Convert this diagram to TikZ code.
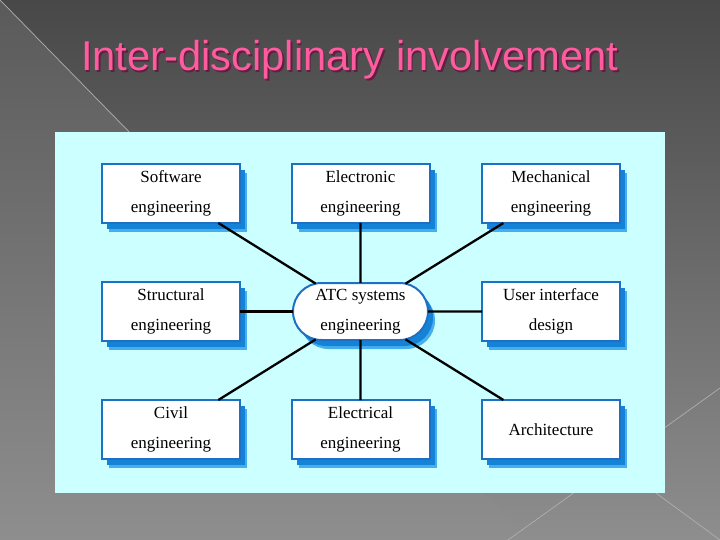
\documentclass[tikz,border=0pt]{standalone}
\usepackage{fontspec}
\setmainfont{Liberation Serif}
\newfontfamily\titlefont{Liberation Sans}
\usetikzlibrary{shapes.misc,shadows}
\definecolor{panelcyan}{RGB}{204,255,255}
\definecolor{boxblue}{RGB}{30,112,196}
\definecolor{shadowA}{RGB}{20,130,215}
\definecolor{shadowB}{RGB}{70,175,235}
\definecolor{titlepink}{RGB}{255,92,160}
\definecolor{titledark}{RGB}{100,30,65}
\definecolor{bgtop}{RGB}{72,72,72}
\definecolor{bgtopl}{RGB}{90,90,90}
\definecolor{bgbot}{RGB}{142,142,142}
\definecolor{diagline}{RGB}{175,175,175}
\begin{document}
\begin{tikzpicture}[x=1pt,y=-1pt,
  every node/.style={inner sep=0pt, outer sep=0pt},
  boxshadow/.style={
     general shadow={fill=shadowB, shadow xshift=7pt, shadow yshift=-9pt},
     general shadow={fill=shadowA, shadow xshift=5pt, shadow yshift=-6pt}},
  box/.style={boxshadow, draw=boxblue, line width=2pt, fill=white,
     minimum width=138pt, minimum height=59pt, align=center,
     font=\fontsize{17}{30}\selectfont},
  hub/.style={boxshadow, rounded rectangle, draw=boxblue, line width=2pt, fill=white,
     minimum width=135pt, minimum height=57pt, align=center,
     font=\fontsize{17}{30}\selectfont},
  link/.style={line width=2.3pt, black},
  diag/.style={draw=diagline, line width=0.7pt}]
% background
\useasboundingbox (0,0) rectangle (720,540);
\shade[top color=bgtop, bottom color=bgbot] (0,0) rectangle (720,540);
\shade[top color=bgtopl, bottom color=bgbot] (0,0) -- (530,540) -- (0,540) -- cycle;
\draw[diag] (0,0) -- (140,143);
\draw[diag] (508,540) -- (720,388);
\draw[diag] (600,452) -- (720,540);
% title
\node[anchor=base west, font=\titlefont\fontsize{41.7}{50}\selectfont, text=titledark]
  (titleshadow) at (82.5,72.5) {Inter-disciplinary involvement};
\node[anchor=base west, font=\titlefont\fontsize{41.7}{50}\selectfont, text=titlepink]
  (title) at (81,71) {Inter-disciplinary involvement};
% panel
\fill[panelcyan] (55,132) rectangle (665,493);
% nodes
\node[box] (sw)   at (171,193.5) {Software\\engineering};
\node[box] (elc)  at (360.5,193.5) {Electronic\\engineering};
\node[box] (mech) at (551,193.5) {Mechanical\\engineering};
\node[box] (str)  at (171,311.5) {Structural\\engineering};
\node[box] (ui)   at (551,311.5) {User interface\\design};
\node[box] (civ)  at (171,429.5) {Civil\\engineering};
\node[box] (ele)  at (360.5,429.5) {Electrical\\engineering};
\node[box] (arch) at (551,429.5) {Architecture};
\node[hub] (atc)  at (360.5,311.5) {ATC systems\\engineering};
% links
\foreach \n in {sw,elc,mech,str,ui,civ,ele,arch}
  \draw[link] (atc) -- (\n);
\end{tikzpicture}
\end{document}
